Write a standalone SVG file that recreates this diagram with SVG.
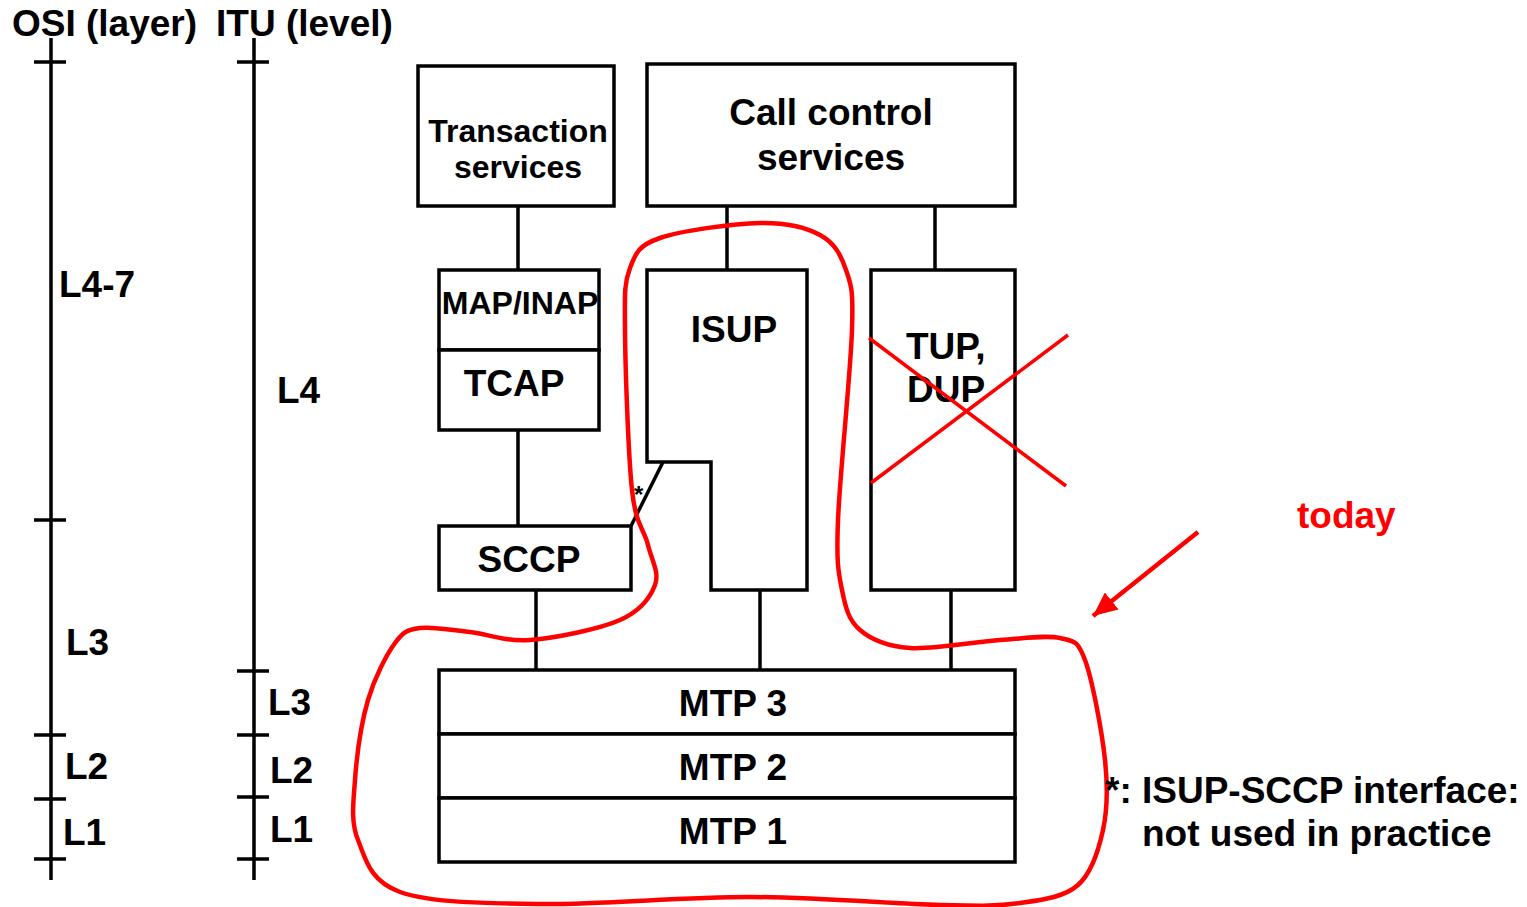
<svg xmlns="http://www.w3.org/2000/svg" width="1527" height="907" viewBox="0 0 1527 907">
<style>
.t{font-family:"Liberation Sans",Arial,sans-serif;font-weight:bold;font-size:37px;fill:#000}
.s{font-size:32px}
.c{text-anchor:middle}
.red{fill:#f00}
.box{fill:#fff;stroke:#000;stroke-width:3.5}
.ln{stroke:#000;stroke-width:3.5;fill:none}
.rl{stroke:#f00;stroke-width:4.5;fill:none}
</style>
<defs>
<marker id="ah" markerUnits="userSpaceOnUse" markerWidth="26" markerHeight="22" refX="24" refY="11" orient="auto">
<path d="M0,0 L24,11 L0,22 Z" fill="#f00"/>
</marker>
</defs>
<rect width="1527" height="907" fill="#fff"/>

<g id="axes">
<text class="t" x="12" y="36">OSI (layer)</text>
<text class="t" x="216" y="36">ITU (level)</text>
<path class="ln" d="M51,38 V880 M34,62 H66 M34,520 H66 M34,735 H66 M34,799 H66 M34,859 H66"/>
<path class="ln" d="M254,38 V880 M237,62 H269 M237,671 H269 M237,735 H269 M237,797 H269 M237,859 H269"/>
<text class="t" x="59" y="297">L4-7</text>
<text class="t" x="66" y="655">L3</text>
<text class="t" x="65" y="779">L2</text>
<text class="t" x="63" y="845">L1</text>
<text class="t" x="277" y="403">L4</text>
<text class="t" x="268" y="715">L3</text>
<text class="t" x="270" y="783">L2</text>
<text class="t" x="270" y="842">L1</text>
</g>

<g id="connectors">
<path class="ln" d="M518,206 V270 M518,430 V526 M727,206 V270 M935,206 V270 M536,590 V670 M760,590 V670 M951,590 V670"/>
<path class="ln" d="M631,526 L663,462"/>
<text class="t" x="634" y="503" style="font-size:24px">*</text>
</g>

<g id="transaction">
<rect class="box" x="418" y="66" width="196" height="140"/>
<text class="t s c" x="518" y="142">Transaction</text>
<text class="t s c" x="518" y="178">services</text>
</g>

<g id="callcontrol">
<rect class="box" x="647" y="64" width="368" height="142"/>
<text class="t c" x="831" y="125">Call control</text>
<text class="t c" x="831" y="170">services</text>
</g>

<g id="mapinap">
<rect class="box" x="439" y="270" width="160" height="80"/>
<text class="t s c" x="520" y="314">MAP/INAP</text>
</g>
<g id="tcap">
<rect class="box" x="439" y="350" width="160" height="80"/>
<text class="t c" x="514" y="396">TCAP</text>
</g>

<g id="sccp">
<rect class="box" x="439" y="526" width="192" height="64"/>
<text class="t c" x="529" y="572">SCCP</text>
</g>

<g id="isup">
<path class="box" d="M647,270 H807 V590 H711 V462 H647 Z"/>
<text class="t c" x="734" y="342">ISUP</text>
</g>

<g id="tupdup">
<rect class="box" x="871" y="270" width="144" height="320"/>
<text class="t" x="906" y="359">TUP,</text>
<text class="t" x="907" y="402">DUP</text>
<path class="rl" d="M869,338 L1066,486 M1068,335 L871,483" style="stroke-width:3.5"/>
</g>

<g id="mtp3">
<rect class="box" x="439" y="670" width="576" height="64"/>
<text class="t c" x="733" y="716">MTP 3</text>
</g>
<g id="mtp2">
<rect class="box" x="439" y="734" width="576" height="64"/>
<text class="t c" x="733" y="780">MTP 2</text>
</g>
<g id="mtp1">
<rect class="box" x="439" y="798" width="576" height="64"/>
<text class="t c" x="733" y="844">MTP 1</text>
</g>

<g id="today">
<path class="rl" d="M630,268 C635.8,252.7 638.3,245.5 660,238 C681.7,230.5 733.3,223.5 760,223 C786.7,222.5 805.7,227.2 820,235 C834.3,242.8 840.7,254.2 846,270 C851.3,285.8 853.3,288.3 852,330 C850.7,371.7 839.7,476.7 838,520 C836.3,563.3 838.3,571.7 842,590 C845.7,608.3 848.7,620.3 860,630 C871.3,639.7 886.7,646.3 910,648 C933.3,649.7 975,641.7 1000,640 C1025,638.3 1045.8,634.7 1060,638 C1074.2,641.3 1077.5,639.7 1085,660 C1092.5,680.3 1102,731.7 1105,760 C1108,788.3 1107.5,809.2 1103,830 C1098.5,850.8 1091.8,872.8 1078,885 C1064.2,897.2 1043,899.7 1020,903 C997,906.3 985,906 940,905 C895,904 816.7,897.2 750,897 C683.3,896.8 598.3,904.8 540,904 C481.7,903.2 430.3,902.7 400,892 C369.7,881.3 365.5,858.7 358,840 C350.5,821.3 353.3,803.3 355,780 C356.7,756.7 361.3,722.8 368,700 C374.7,677.2 386.3,655 395,643 C403.7,631 407.5,629.8 420,628 C432.5,626.2 451.7,630 470,632 C488.3,634 505,642 530,640 C555,638 599.2,629.2 620,620 C640.8,610.8 650.3,597.5 655,585 C659.7,572.5 651.8,560.8 648,545 C644.2,529.2 635.8,525.8 632,490 C628.2,454.2 625.3,367 625,330 C624.7,293 624.2,283.3 630,268 Z"/>
<path class="rl" d="M1198,532 L1093,616" marker-end="url(#ah)"/>
<text class="t red" x="1297" y="528">today</text>
</g>

<g id="footnote">
<text class="t" x="1105" y="803">*: ISUP-SCCP interface:</text>
<text class="t" x="1142" y="846">not used in practice</text>
</g>
</svg>
